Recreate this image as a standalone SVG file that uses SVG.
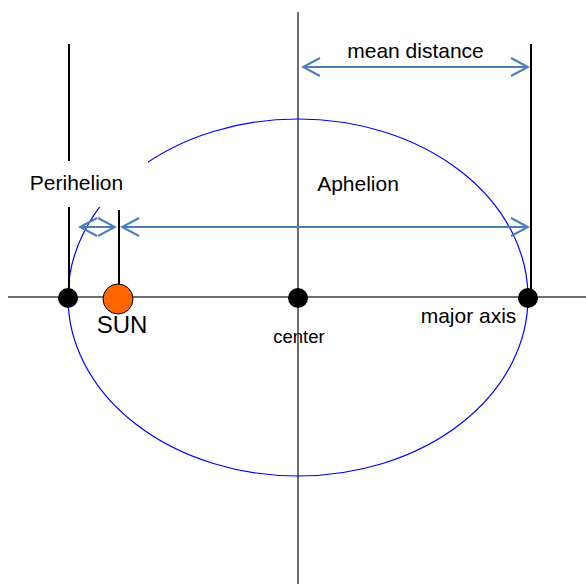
<svg xmlns="http://www.w3.org/2000/svg" width="586" height="584" viewBox="0 0 586 584">
<defs>
<style>
.axis{stroke:#6e6e6e;stroke-width:2;fill:none}
.blk{stroke:#000;stroke-width:2;fill:none}
.arr{stroke:#4a7ebb;stroke-width:2;fill:none}
.t{font-family:"Liberation Sans",Arial,sans-serif;fill:#000}
.dot{fill:#000}
</style>
<marker id="ah" viewBox="0 0 20 20" refX="18" refY="10" markerWidth="20" markerHeight="20" markerUnits="userSpaceOnUse" orient="auto-start-reverse">
<path d="M1,1 L18,10 L1,19" fill="none" stroke="#4a7ebb" stroke-width="2"/>
</marker>
</defs>
<rect width="586" height="584" fill="#fff"/>
<g id="axes">
<line class="axis" x1="8" y1="297" x2="586" y2="297"/>
<line class="axis" x1="298" y1="12" x2="298" y2="584"/>
</g>
<g id="orbit">
<ellipse cx="298" cy="297.5" rx="230" ry="178.5" fill="none" stroke="#0000ff" stroke-width="1.2"/>
</g>
<g id="connectors">
<line class="blk" x1="69" y1="44" x2="69" y2="297"/>
<line class="blk" x1="531" y1="44" x2="531" y2="297"/>
<line class="blk" x1="119" y1="210" x2="119" y2="284"/>
<line class="arr" x1="303" y1="67" x2="528" y2="67" marker-start="url(#ah)" marker-end="url(#ah)"/>
<line class="arr" x1="122" y1="227" x2="528" y2="227" marker-start="url(#ah)" marker-end="url(#ah)"/>
<line class="arr" x1="80" y1="227" x2="115" y2="227" marker-start="url(#ah)" marker-end="url(#ah)"/>
</g>
<g id="perihelion">
<rect x="20" y="161" width="128" height="46" fill="#fff"/>
<text class="t" x="76.5" y="190" font-size="21" text-anchor="middle">Perihelion</text>
</g>
<g id="aphelion">
<text class="t" x="358" y="191" font-size="21" text-anchor="middle">Aphelion</text>
</g>
<g id="mean-distance">
<text class="t" x="415.5" y="58" font-size="21" text-anchor="middle">mean distance</text>
</g>
<g id="perihelion-point"><circle class="dot" cx="68" cy="298" r="10"/></g>
<g id="center">
<circle class="dot" cx="298" cy="298" r="10"/>
<text class="t" x="299" y="343" font-size="18.5" text-anchor="middle">center</text>
</g>
<g id="major-axis">
<circle class="dot" cx="528" cy="298" r="10"/>
<text class="t" x="468.5" y="323" font-size="21" text-anchor="middle">major axis</text>
</g>
<g id="sun">
<circle cx="118" cy="299" r="15" fill="#ff6600" stroke="#000" stroke-width="1"/>
<text class="t" x="122" y="333" font-size="24" text-anchor="middle">SUN</text>
</g>
</svg>
